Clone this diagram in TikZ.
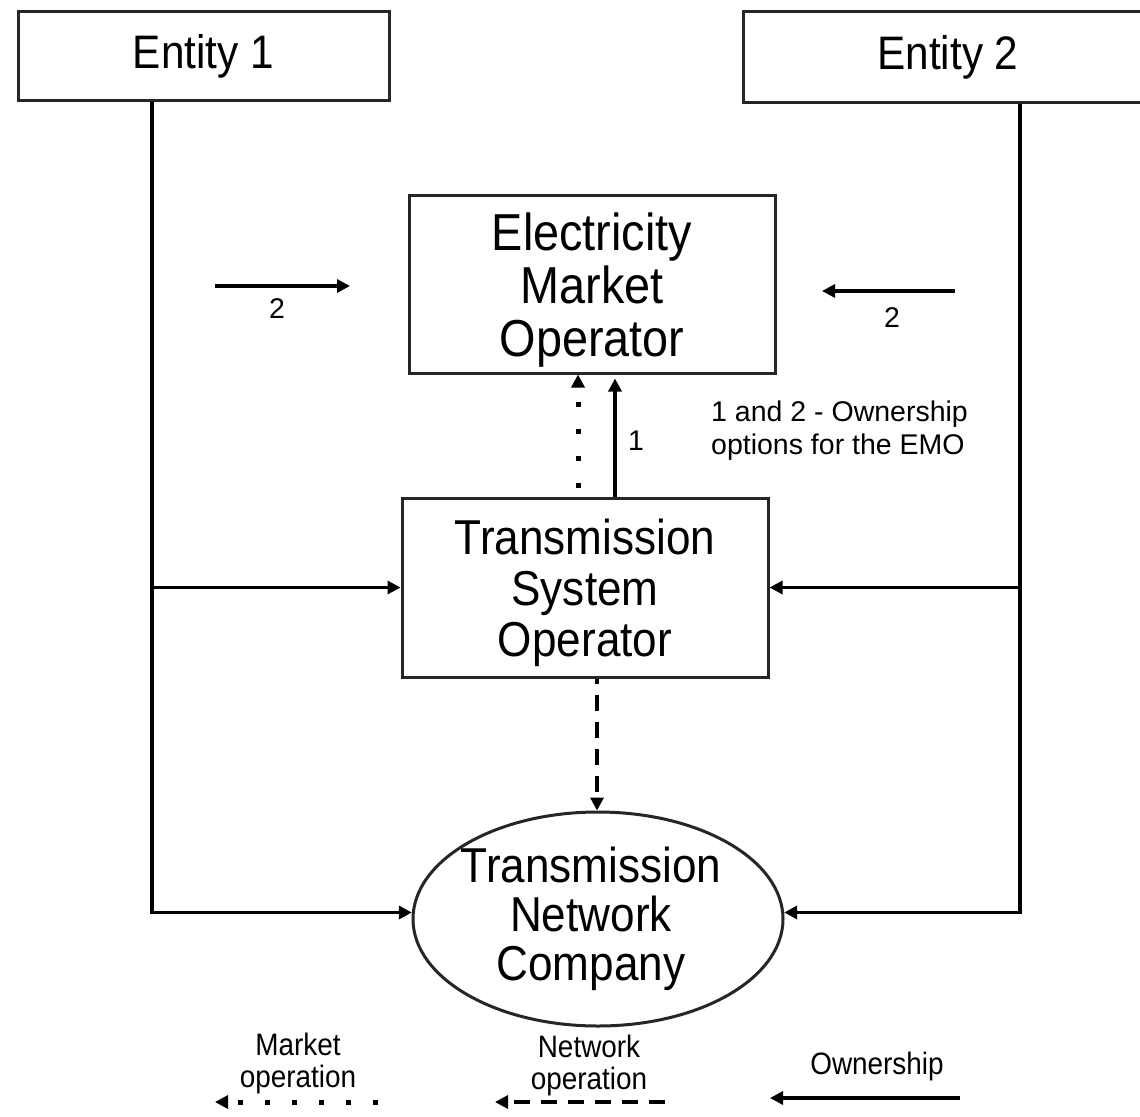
\documentclass[tikz,border=0pt]{standalone}
\usepackage{fontspec}
\setmainfont{Liberation Sans}
\newfontfamily\condf[FakeStretch=0.9]{Liberation Sans}
\usetikzlibrary{arrows.meta,shapes.geometric}
\tikzset{
  box/.style={draw=black!85, line width=3pt, fill=white, inner sep=0pt, align=center},
  boxtext/.style={inner sep=0pt, align=center},
  conn/.style={line width=3.4pt, draw=black},
  tip/.style={-{Triangle[length=13pt,width=13pt]}},
  dotline/.style={conn, line width=5pt, dash pattern=on 5pt off 22pt},
  dashline/.style={conn, line width=4pt, dash pattern=on 16pt off 11pt},
  small/.style={font=\fontsize{28.5}{33}\selectfont, align=left, inner sep=0pt},
  legend/.style={font=\condf\fontsize{31}{32}\selectfont, align=center, inner sep=0pt},
}
\begin{document}
\begin{tikzpicture}[x=1pt,y=-1pt]
\useasboundingbox (0,0) rectangle (1140,1116);
\clip (0,0) rectangle (1140,1116);
\fill[white] (0,0) rectangle (1140,1116);

% nodes
\node[box, minimum width=371pt, minimum height=88pt, font=\condf\fontsize{47}{50}\selectfont] (e1) at (203.5,56) {Entity 1};
\node[box, minimum width=417pt, minimum height=90pt, font=\condf\fontsize{47}{50}\selectfont] (e2) at (951.5,57) {\hspace*{-7pt}Entity 2};
\node[box, minimum width=366pt, minimum height=178pt] (emo) at (592,284) {};
\node[boxtext, font=\condf\fontsize{52}{53}\selectfont, yshift=-6pt] (emot) at (emo.center) {Electricity\\Market\\Operator};
\node[box, minimum width=366pt, minimum height=179pt] (tso) at (585,587.5) {};
\node[boxtext, font=\condf\fontsize{49}{51}\selectfont, yshift=-5pt] (tsot) at (tso.center) {Transmission\\System\\Operator};
\node[box, ellipse, minimum width=370pt, minimum height=214pt] (tnc) at (598,919) {};
\node[boxtext, font=\condf\fontsize{49}{49}\selectfont, xshift=-7pt] (tnct) at (tnc.center) {Transmission\\Network\\Company};

% trunk coordinates
\coordinate (lx) at (152,0);
\coordinate (rx) at (1020,0);
\coordinate (d1) at (578,0);
\coordinate (s1) at (615,0);
\coordinate (n1) at (597,0);

% left entity
\draw[conn, tip] (e1.south -| lx) -- (lx |- tnc.178) -- (tnc.178);
\draw[conn, tip] (lx |- tso.west) -- (tso.west);
% right entity
\draw[conn, tip] (e2.south -| rx) -- (rx |- tnc.2) -- (tnc.2);
\draw[conn, tip] (rx |- tso.east) -- (tso.east);

% option 2 arrows
\coordinate (l2a) at (215,286);
\coordinate (l2b) at (350,286);
\draw[conn, tip] (l2a) -- (l2b);
\node[small] (l2t) at (277,309) {2};
\coordinate (r2a) at (955,291);
\coordinate (r2b) at (822,291);
\draw[conn, tip] (r2a) -- (r2b);
\node[small] (r2t) at (892,318) {2};

% TSO -> EMO
\draw[dotline, tip, dash phase=18pt] (tso.north -| d1) -- (emo.south -| d1);
\draw[conn, tip] (tso.north -| s1) -- ([yshift=-4pt]emo.south -| s1);
\node[small] (one) at (636,441) {1};
\node[small, anchor=west] (note) at (711,431) {1 and 2 - Ownership\\options for the EMO};

% TSO -> TNC
\draw[dashline, tip, dash phase=11pt] (tso.south -| n1) -- (tnc.north -| n1);

% legend
\node[legend] (lm) at (298,1063) {Market\\operation};
\node[legend] (ln) at (589,1065) {Network\\operation};
\node[legend] (lo) at (877,1066) {Ownership};
\coordinate (m1) at (378,1102);
\coordinate (m2) at (215,1102);
\draw[dotline, tip] (m1) -- (m2);
\coordinate (k1) at (665,1102);
\coordinate (k2) at (495,1102);
\draw[dashline, tip] (k1) -- (k2);
\coordinate (o1) at (960,1098);
\coordinate (o2) at (770,1098);
\draw[conn, tip] (o1) -- (o2);
\end{tikzpicture}
\end{document}
